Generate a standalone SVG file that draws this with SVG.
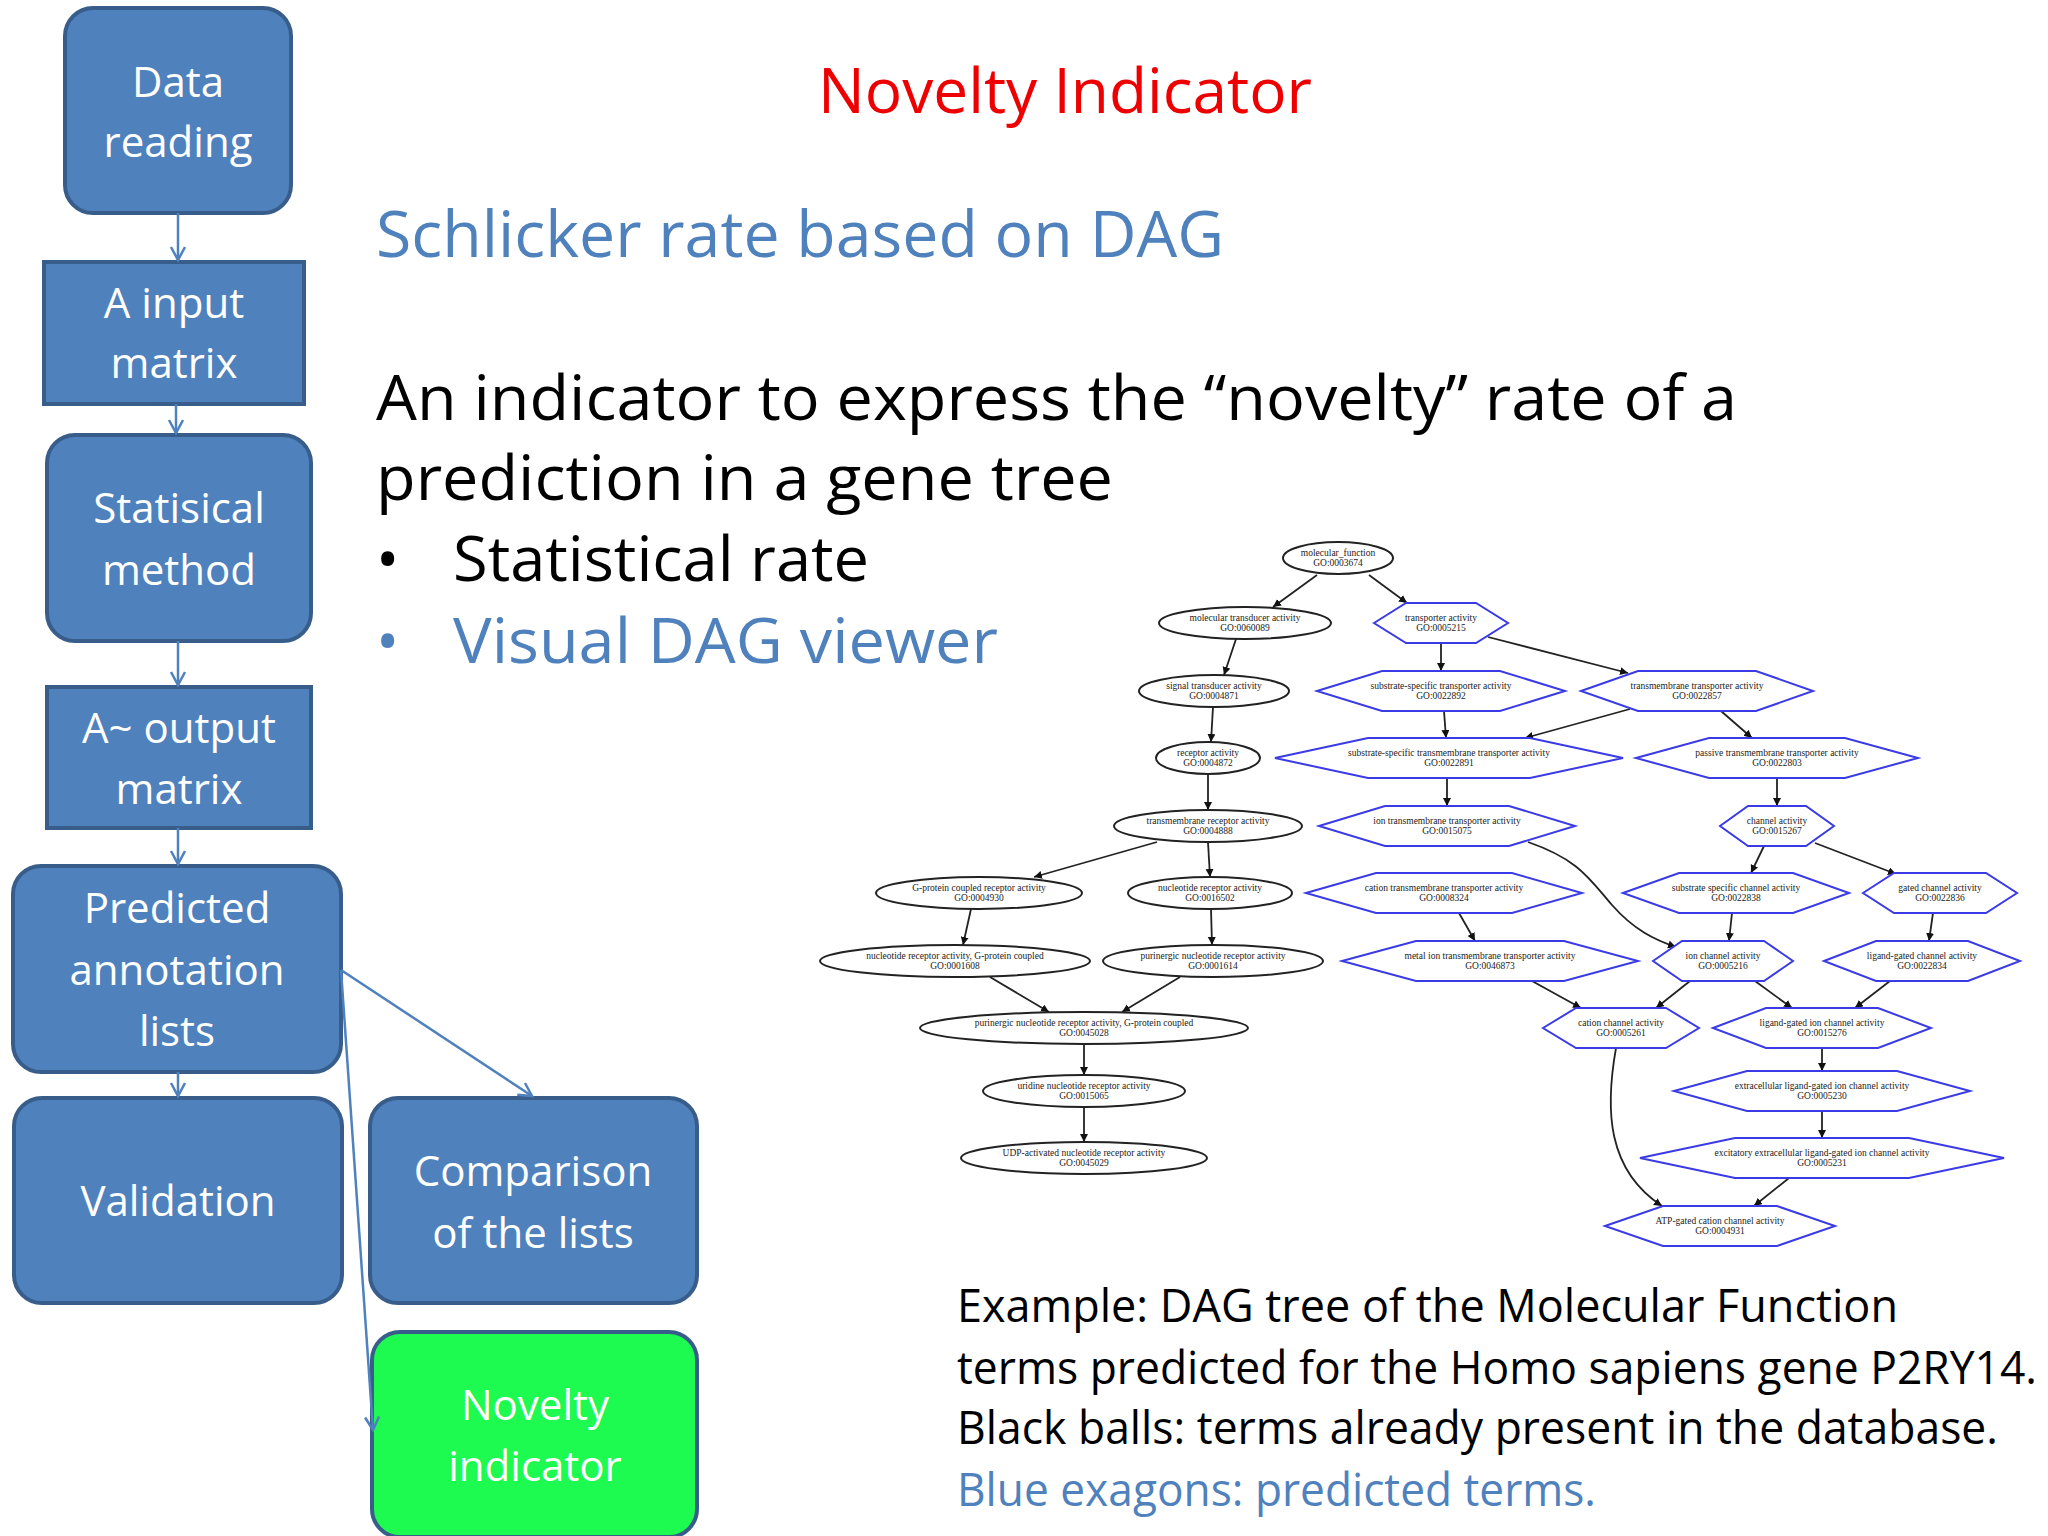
<svg xmlns="http://www.w3.org/2000/svg" width="2048" height="1536" viewBox="0 0 2048 1536">
<style>
.box{fill:#4f81bd;stroke:#385d8a;stroke-width:4}
.bt{font-family:"Open Sans","Liberation Sans",sans-serif;font-size:42px;fill:#fff;text-anchor:middle}
.fl{stroke:#4f81bd;stroke-width:2.5;fill:none;marker-end:url(#open)}
.el{fill:#fff;stroke:#222;stroke-width:2}
.hx{fill:#fff;stroke:#3a3ae6;stroke-width:2}
.nt{font-family:"Liberation Serif",serif;font-size:9.5px;fill:#222;text-anchor:middle}
.e{stroke:#222;stroke-width:1.8;fill:none;marker-end:url(#ah)}
.big{font-family:"Open Sans","Liberation Sans",sans-serif}
</style>
<defs>
<marker id="open" markerWidth="20" markerHeight="20" refX="14" refY="8" orient="auto" markerUnits="userSpaceOnUse"><path d="M1,1 L14,8 L1,15" fill="none" stroke="#4f81bd" stroke-width="2.5"/></marker>
<marker id="ah" markerWidth="10" markerHeight="10" refX="8" refY="4" orient="auto" markerUnits="userSpaceOnUse"><path d="M0,0 L8,4 L0,8 z" fill="#111"/></marker>
</defs>
<rect width="2048" height="1536" fill="#fff"/>

<text x="1065" y="113" class="big" font-size="62" fill="#ee0000" text-anchor="middle" textLength="494" lengthAdjust="spacingAndGlyphs">Novelty Indicator</text>
<text x="376" y="257" class="big" font-size="64" fill="#4f81bd" textLength="848" lengthAdjust="spacingAndGlyphs">Schlicker rate based on DAG</text>
<text x="376" y="420" class="big" font-size="62" fill="#000" textLength="1361" lengthAdjust="spacingAndGlyphs">An indicator to express the “novelty” rate of a</text>
<text x="376" y="500" class="big" font-size="62" fill="#000" textLength="737" lengthAdjust="spacingAndGlyphs">prediction in a gene tree</text>
<text x="376" y="581" class="big" font-size="62" fill="#000">•</text>
<text x="453" y="581" class="big" font-size="62" fill="#000" textLength="416" lengthAdjust="spacingAndGlyphs">Statistical rate</text>
<text x="376" y="663" class="big" font-size="62" fill="#4f81bd">•</text>
<text x="453" y="663" class="big" font-size="62" fill="#4f81bd" textLength="545" lengthAdjust="spacingAndGlyphs">Visual DAG viewer</text>

<g class="big" font-size="45">
<text x="957" y="1322" fill="#000" textLength="941" lengthAdjust="spacingAndGlyphs">Example: DAG tree of the Molecular Function</text>
<text x="957" y="1384" fill="#000" textLength="1080" lengthAdjust="spacingAndGlyphs">terms predicted for the Homo sapiens gene P2RY14.</text>
<text x="957" y="1444" fill="#000" textLength="1041" lengthAdjust="spacingAndGlyphs">Black balls: terms already present in the database.</text>
<text x="957" y="1506" fill="#4f81bd" textLength="639" lengthAdjust="spacingAndGlyphs">Blue exagons: predicted terms.</text>
</g>

<!-- flowchart -->
<g id="n-data"><rect class="box" x="65" y="8" width="226" height="205" rx="28"/><text class="bt" x="178" y="97">Data</text><text class="bt" x="178" y="157">reading</text></g>
<g id="n-ainput"><rect class="box" x="44" y="262" width="260" height="142"/><text class="bt" x="174" y="318">A input</text><text class="bt" x="174" y="378">matrix</text></g>
<g id="n-stat"><rect class="box" x="47" y="435" width="264" height="206" rx="28"/><text class="bt" x="179" y="523">Statisical</text><text class="bt" x="179" y="585">method</text></g>
<g id="n-aout"><rect class="box" x="47" y="687" width="264" height="141"/><text class="bt" x="179" y="743">A~ output</text><text class="bt" x="179" y="804">matrix</text></g>
<g id="n-pred"><rect class="box" x="13" y="866" width="328" height="206" rx="28"/><text class="bt" x="177" y="923">Predicted</text><text class="bt" x="177" y="985">annotation</text><text class="bt" x="177" y="1046">lists</text></g>
<g id="n-valid"><rect class="box" x="14" y="1098" width="328" height="205" rx="28"/><text class="bt" x="178" y="1216">Validation</text></g>
<g id="n-comp"><rect class="box" x="370" y="1098" width="327" height="205" rx="28"/><text class="bt" x="533" y="1186">Comparison</text><text class="bt" x="533" y="1248">of the lists</text></g>
<g id="n-nov"><rect x="372" y="1332" width="325" height="205" rx="28" fill="#1dfb50" stroke="#385d8a" stroke-width="4"/><text class="bt" x="535" y="1420">Novelty</text><text class="bt" x="535" y="1481">indicator</text></g>

<g id="flow-connectors">
<path class="fl" d="M178,213 V260"/>
<path class="fl" d="M176,404 V433"/>
<path class="fl" d="M178,641 V685"/>
<path class="fl" d="M178,828 V864"/>
<path class="fl" d="M178,1072 V1096"/>
<path class="fl" d="M341,970 L532,1096"/>
<path class="fl" d="M341,970 L373,1430"/>
</g>

<!-- DAG edges -->
<g id="dag-connectors">
<path class="e" d="M1317,575 L1273,607"/>
<path class="e" d="M1369,575 L1407,603"/>
<path class="e" d="M1236,639 L1224,675"/>
<path class="e" d="M1213,707 L1211,742"/>
<path class="e" d="M1208,774 L1208,810"/>
<path class="e" d="M1157,842 L1034,877"/>
<path class="e" d="M1208,842 L1210,877"/>
<path class="e" d="M971,909 L963,945"/>
<path class="e" d="M1211,909 L1212,945"/>
<path class="e" d="M990,977 L1049,1012"/>
<path class="e" d="M1180,977 L1122,1012"/>
<path class="e" d="M1084,1044 L1084,1075"/>
<path class="e" d="M1084,1107 L1084,1142"/>
<path class="e" d="M1441,643 L1441,671"/>
<path class="e" d="M1488,637 L1628,673"/>
<path class="e" d="M1444,711 L1446,738"/>
<path class="e" d="M1630,709 L1525,738"/>
<path class="e" d="M1721,711 L1752,738"/>
<path class="e" d="M1447,778 L1447,806"/>
<path class="e" d="M1777,778 L1777,806"/>
<path class="e" d="M1764,846 L1751,873"/>
<path class="e" d="M1815,843 L1896,874"/>
<path class="e" d="M1528,842 C1580,860 1590,880 1612,905 S1655,940 1676,947"/>
<path class="e" d="M1459,913 L1475,941"/>
<path class="e" d="M1732,913 L1729,941"/>
<path class="e" d="M1933,913 L1929,941"/>
<path class="e" d="M1532,981 L1581,1008"/>
<path class="e" d="M1690,981 L1656,1008"/>
<path class="e" d="M1755,981 L1792,1008"/>
<path class="e" d="M1890,981 L1855,1008"/>
<path class="e" d="M1822,1048 L1822,1071"/>
<path class="e" d="M1822,1111 L1822,1138"/>
<path class="e" d="M1789,1178 L1754,1206"/>
<path class="e" d="M1616,1048 C1605,1110 1607,1170 1662,1206"/>
</g>

<!-- DAG ellipses -->
<g id="mf"><ellipse class="el" cx="1338" cy="558" rx="55" ry="16"/><text class="nt" x="1338" y="556">molecular_function</text><text class="nt" x="1338" y="566">GO:0003674</text></g>
<g id="mt"><ellipse class="el" cx="1245" cy="623" rx="86" ry="16"/><text class="nt" x="1245" y="621">molecular transducer activity</text><text class="nt" x="1245" y="631">GO:0060089</text></g>
<g id="st"><ellipse class="el" cx="1214" cy="691" rx="75" ry="16"/><text class="nt" x="1214" y="689">signal transducer activity</text><text class="nt" x="1214" y="699">GO:0004871</text></g>
<g id="ra"><ellipse class="el" cx="1208" cy="758" rx="52" ry="16"/><text class="nt" x="1208" y="756">receptor activity</text><text class="nt" x="1208" y="766">GO:0004872</text></g>
<g id="tra"><ellipse class="el" cx="1208" cy="826" rx="94" ry="16"/><text class="nt" x="1208" y="824">transmembrane receptor activity</text><text class="nt" x="1208" y="834">GO:0004888</text></g>
<g id="gpcr"><ellipse class="el" cx="979" cy="893" rx="103" ry="16"/><text class="nt" x="979" y="891">G-protein coupled receptor activity</text><text class="nt" x="979" y="901">GO:0004930</text></g>
<g id="nr"><ellipse class="el" cx="1210" cy="893" rx="82" ry="16"/><text class="nt" x="1210" y="891">nucleotide receptor activity</text><text class="nt" x="1210" y="901">GO:0016502</text></g>
<g id="nrgp"><ellipse class="el" cx="955" cy="961" rx="135" ry="16"/><text class="nt" x="955" y="959">nucleotide receptor activity, G-protein coupled</text><text class="nt" x="955" y="969">GO:0001608</text></g>
<g id="pnr"><ellipse class="el" cx="1213" cy="961" rx="110" ry="16"/><text class="nt" x="1213" y="959">purinergic nucleotide receptor activity</text><text class="nt" x="1213" y="969">GO:0001614</text></g>
<g id="pnrgp"><ellipse class="el" cx="1084" cy="1028" rx="164" ry="16"/><text class="nt" x="1084" y="1026">purinergic nucleotide receptor activity, G-protein coupled</text><text class="nt" x="1084" y="1036">GO:0045028</text></g>
<g id="unr"><ellipse class="el" cx="1084" cy="1091" rx="101" ry="16"/><text class="nt" x="1084" y="1089">uridine nucleotide receptor activity</text><text class="nt" x="1084" y="1099">GO:0015065</text></g>
<g id="udp"><ellipse class="el" cx="1084" cy="1158" rx="123" ry="16"/><text class="nt" x="1084" y="1156">UDP-activated nucleotide receptor activity</text><text class="nt" x="1084" y="1166">GO:0045029</text></g>

<!-- DAG hexagons -->
<g id="ta"><polygon class="hx" points="1374,623 1406,603 1476,603 1508,623 1476,643 1406,643"/><text class="nt" x="1441" y="621">transporter activity</text><text class="nt" x="1441" y="631">GO:0005215</text></g>
<g id="ssta"><polygon class="hx" points="1317,691 1382,671 1500,671 1565,691 1500,711 1382,711"/><text class="nt" x="1441" y="689">substrate-specific transporter activity</text><text class="nt" x="1441" y="699">GO:0022892</text></g>
<g id="tta"><polygon class="hx" points="1581,691 1638,671 1756,671 1813,691 1756,711 1638,711"/><text class="nt" x="1697" y="689">transmembrane transporter activity</text><text class="nt" x="1697" y="699">GO:0022857</text></g>
<g id="sstta"><polygon class="hx" points="1275,758 1368,738 1530,738 1623,758 1530,778 1368,778"/><text class="nt" x="1449" y="756">substrate-specific transmembrane transporter activity</text><text class="nt" x="1449" y="766">GO:0022891</text></g>
<g id="ptta"><polygon class="hx" points="1636,758 1709,738 1845,738 1918,758 1845,778 1709,778"/><text class="nt" x="1777" y="756">passive transmembrane transporter activity</text><text class="nt" x="1777" y="766">GO:0022803</text></g>
<g id="itta"><polygon class="hx" points="1319,826 1385,806 1509,806 1575,826 1509,846 1385,846"/><text class="nt" x="1447" y="824">ion transmembrane transporter activity</text><text class="nt" x="1447" y="834">GO:0015075</text></g>
<g id="ca"><polygon class="hx" points="1720,826 1748,806 1806,806 1834,826 1806,846 1748,846"/><text class="nt" x="1777" y="824">channel activity</text><text class="nt" x="1777" y="834">GO:0015267</text></g>
<g id="ctta"><polygon class="hx" points="1306,893 1376,873 1512,873 1582,893 1512,913 1376,913"/><text class="nt" x="1444" y="891">cation transmembrane transporter activity</text><text class="nt" x="1444" y="901">GO:0008324</text></g>
<g id="ssca"><polygon class="hx" points="1623,893 1679,873 1793,873 1849,893 1793,913 1679,913"/><text class="nt" x="1736" y="891">substrate specific channel activity</text><text class="nt" x="1736" y="901">GO:0022838</text></g>
<g id="gca"><polygon class="hx" points="1863,893 1894,873 1986,873 2017,893 1986,913 1894,913"/><text class="nt" x="1940" y="891">gated channel activity</text><text class="nt" x="1940" y="901">GO:0022836</text></g>
<g id="mitta"><polygon class="hx" points="1342,961 1416,941 1564,941 1638,961 1564,981 1416,981"/><text class="nt" x="1490" y="959">metal ion transmembrane transporter activity</text><text class="nt" x="1490" y="969">GO:0046873</text></g>
<g id="ica"><polygon class="hx" points="1653,961 1682,941 1764,941 1793,961 1764,981 1682,981"/><text class="nt" x="1723" y="959">ion channel activity</text><text class="nt" x="1723" y="969">GO:0005216</text></g>
<g id="lgca"><polygon class="hx" points="1824,961 1876,941 1968,941 2020,961 1968,981 1876,981"/><text class="nt" x="1922" y="959">ligand-gated channel activity</text><text class="nt" x="1922" y="969">GO:0022834</text></g>
<g id="cca"><polygon class="hx" points="1543,1028 1576,1008 1666,1008 1699,1028 1666,1048 1576,1048"/><text class="nt" x="1621" y="1026">cation channel activity</text><text class="nt" x="1621" y="1036">GO:0005261</text></g>
<g id="lgica"><polygon class="hx" points="1713,1028 1766,1008 1878,1008 1931,1028 1878,1048 1766,1048"/><text class="nt" x="1822" y="1026">ligand-gated ion channel activity</text><text class="nt" x="1822" y="1036">GO:0015276</text></g>
<g id="ecl"><polygon class="hx" points="1674,1091 1747,1071 1897,1071 1970,1091 1897,1111 1747,1111"/><text class="nt" x="1822" y="1089">extracellular ligand-gated ion channel activity</text><text class="nt" x="1822" y="1099">GO:0005230</text></g>
<g id="exc"><polygon class="hx" points="1640,1158 1735,1138 1909,1138 2004,1158 1909,1178 1735,1178"/><text class="nt" x="1822" y="1156">excitatory extracellular ligand-gated ion channel activity</text><text class="nt" x="1822" y="1166">GO:0005231</text></g>
<g id="atp"><polygon class="hx" points="1605,1226 1663,1206 1777,1206 1835,1226 1777,1246 1663,1246"/><text class="nt" x="1720" y="1224">ATP-gated cation channel activity</text><text class="nt" x="1720" y="1234">GO:0004931</text></g>
</svg>
